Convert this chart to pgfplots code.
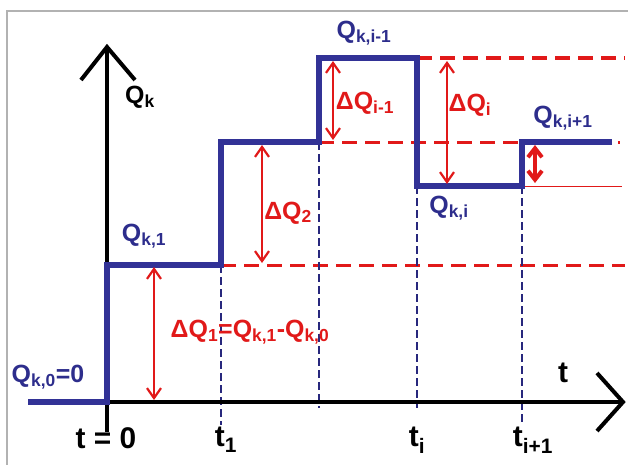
\documentclass[border=0pt]{standalone}
\usepackage{pgfplots}
\pgfplotsset{compat=1.18}
\usepackage{fontspec}
\setmainfont{Liberation Sans}
\usetikzlibrary{arrows.meta}
\definecolor{stepblue}{RGB}{50,50,150}
\definecolor{dashblue}{RGB}{40,40,125}
\definecolor{myred}{RGB}{225,25,25}
\definecolor{txtblue}{RGB}{45,45,140}
\newcommand{\sub}[1]{\textsubscript{#1}}
\tikzset{
  dbl/.style={myred, line width=2.2bp, {Straight Barb[length=10bp,width=14bp]}-{Straight Barb[length=10bp,width=14bp]}},
  lbl/.style={font=\fontsize{25}{27}\selectfont\bfseries, inner sep=0pt},
  tl/.style={font=\fontsize{30}{32}\selectfont\bfseries, inner sep=0pt}}
\begin{document}
\begin{tikzpicture}
\begin{axis}[scale only axis, width=628bp, height=465bp,
  xmin=0, xmax=628, ymin=0, ymax=465, y dir=reverse, hide axis, clip=false]
\coordinate (bl) at (axis cs:0,465);
\coordinate (tr) at (axis cs:628,0);
% frame
\addplot[gray!60, line width=1.5bp] coordinates {(7,465) (7,11) (628,11)};
% red dashed levels
\addplot[myred, line width=3bp, dash pattern=on 15bp off 8bp] coordinates {(221,265) (625,265)};
\addplot[myred, line width=3bp, dash pattern=on 15bp off 8bp] coordinates {(319,142) (620,142)};
\addplot[myred, line width=3.5bp, dash pattern=on 15bp off 8bp] coordinates {(417,58) (625,58)};
\addplot[myred, line width=1bp] coordinates {(522,186) (622,186)};
% blue dashed verticals
\addplot[dashblue, line width=2.5bp, dash pattern=on 8bp off 4bp] coordinates {(221,265) (221,425)};
\addplot[dashblue, line width=2.5bp, dash pattern=on 8bp off 4bp] coordinates {(319,142) (319,408)};
\addplot[dashblue, line width=2.5bp, dash pattern=on 8bp off 4bp] coordinates {(417,186) (417,408)};
\addplot[dashblue, line width=2.5bp, dash pattern=on 8bp off 4bp] coordinates {(522,186) (522,422)};
% axes
\addplot[black, line width=4.5bp] coordinates {(107,432) (107,47)};
\addplot[black, line width=4bp] coordinates {(81,80) (107,47) (135,80)};
\addplot[black, line width=4.5bp] coordinates {(107,402) (622,402)};
\addplot[black, line width=4bp] coordinates {(597,373) (623,402) (597,431)};
% blue step
\addplot[stepblue, line width=5.5bp, line join=miter] coordinates {(28,402) (107,402) (107,265) (221,265) (221,142) (319,142) (319,58) (417,58) (417,186) (522,186) (522,142) (612,142)};
% red double arrows
\addplot[dbl] coordinates {(154,267) (154,400)};
\addplot[dbl] coordinates {(262,145) (262,263)};
\addplot[dbl] coordinates {(333,61) (333,140)};
\addplot[dbl] coordinates {(447,61) (447,184)};
\addplot[myred, line width=4bp, {Straight Barb[length=9bp,width=14bp]}-{Straight Barb[length=9bp,width=14bp]}] coordinates {(535,145) (535,183)};
% labels
\node[lbl, black] at (axis cs:140,97) {Q\sub{k}};
\node[lbl, txtblue] at (axis cs:144,236) {Q\sub{k,1}};
\node[lbl, myred] at (axis cs:288,213) {ΔQ\sub{2}};
\node[lbl, myred] at (axis cs:250,332) {ΔQ\sub{1}=Q\sub{k,1}-Q\sub{k,0}};
\node[lbl, txtblue] at (axis cs:48,377) {Q\sub{k,0}=0};
\node[lbl, txtblue] at (axis cs:364,33) {Q\sub{k,i-1}};
\node[lbl, myred] at (axis cs:365,103) {ΔQ\sub{i-1}};
\node[lbl, myred] at (axis cs:470,105) {ΔQ\sub{i}};
\node[lbl, txtblue] at (axis cs:563,118) {Q\sub{k,i+1}};
\node[lbl, txtblue] at (axis cs:449,208) {Q\sub{k,i}};
\node[tl, black] at (axis cs:106,438) {t = 0};
\node[tl, black] at (axis cs:226,440) {t\sub{1}};
\node[tl, black] at (axis cs:417,440) {t\sub{i}};
\node[tl, black] at (axis cs:533,440) {t\sub{i+1}};
\node[tl, black] at (axis cs:563,373) {t};
\end{axis}
\pgfresetboundingbox
\path[use as bounding box] (bl) rectangle (tr);
\end{tikzpicture}
\end{document}
